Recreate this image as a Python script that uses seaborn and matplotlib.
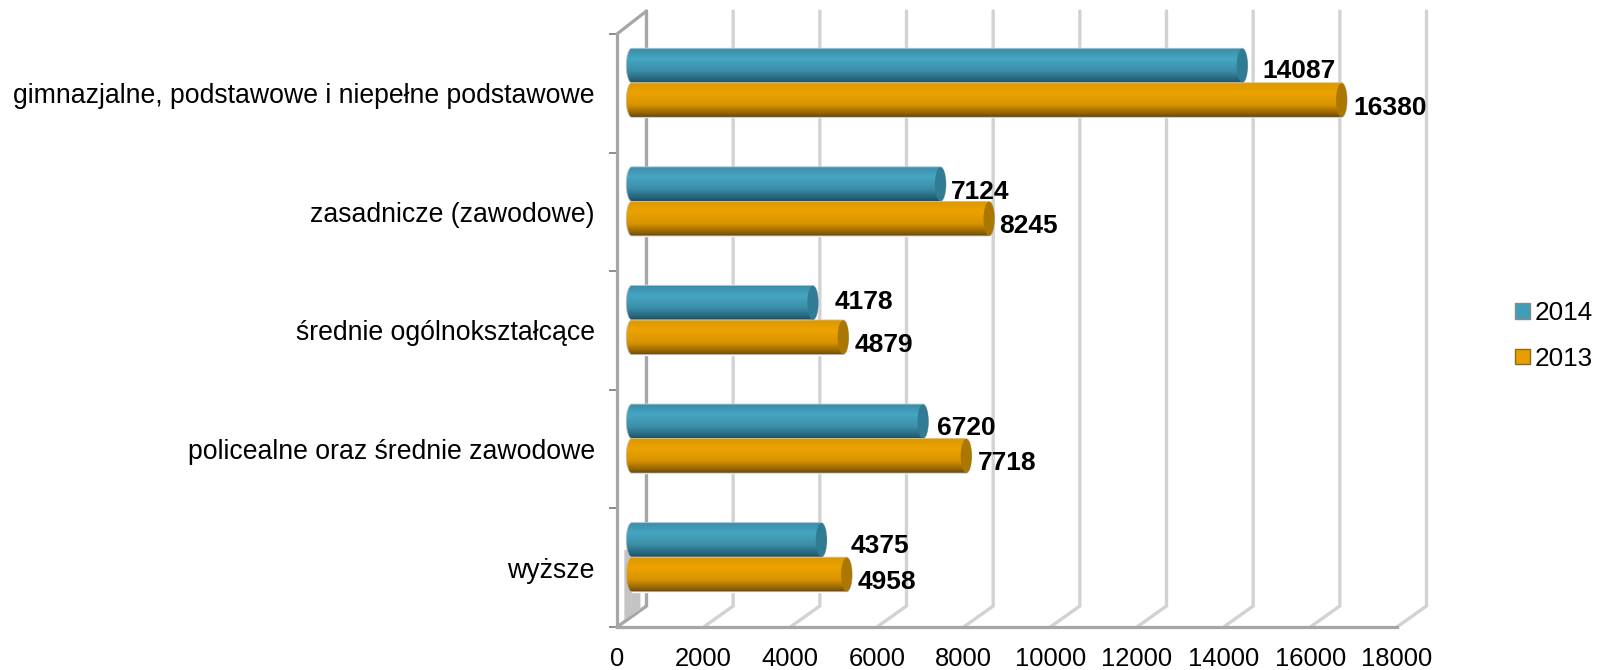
import numpy as np
import pandas as pd
import matplotlib
matplotlib.use("Agg")
import matplotlib.pyplot as plt
import seaborn as sns
from matplotlib.colors import LinearSegmentedColormap
from matplotlib.patches import Ellipse, PathPatch, Polygon, Patch
from matplotlib.path import Path

categories = ["gimnazjalne, podstawowe i niepełne podstawowe", "zasadnicze (zawodowe)",
              "średnie ogólnokształcące", "policealne oraz średnie zawodowe", "wyższe"]
series_names = ["2014", "2013"]
values_2014 = [14087, 7124, 4178, 6720, 4375]
values_2013 = [16380, 8245, 4879, 7718, 4958]
x_ticks = list(range(0, 18001, 2000))

# label nudges in pixels (right of bar end, down from bar centre)
nudge_2014 = [(15, 3), (5, 5), (16, -3), (9, 4), (24, 4)]
nudge_2013 = [(6, 5), (5, 5), (6, 5), (6, 5), (6, 5)]

sns.set_theme(style="white")
plt.rcParams["font.family"] = ["Liberation Sans", "DejaVu Sans"]

W, H = 1600, 670
fig = plt.figure(figsize=(W / 100, H / 100), dpi=100)

def rect(x0, y0, x1, y1):
    return [x0 / W, 1 - y1 / H, (x1 - x0) / W, (y1 - y0) / H]

FX0, FX1, FY0, FY1 = 617, 1397, 34, 627
DX, DY = 29.5, 21
SCALE = (FX1 - FX0) / 18000
LEFT_ROOM = 1000  # data units kept left of zero so the rounded bar ends are drawn
ax = fig.add_axes(rect(FX0, FY0, FX1, FY1))
bar_ax = fig.add_axes(rect(FX0 + DX / 2 - LEFT_ROOM * SCALE, FY0 - DY / 2, FX1 + DX / 2, FY1 - DY / 2))
bar_ax.patch.set_alpha(0)

df = pd.DataFrame({
    "cat": categories * 2,
    "year": [series_names[0]] * 5 + [series_names[1]] * 5,
    "value": values_2014 + values_2013,
})
blue, orange = "#3f9dba", "#e79f00"
sns.barplot(data=df, y="cat", x="value", hue="year", hue_order=series_names,
            palette=[blue, orange], width=0.582, gap=0, dodge=True, legend=False,
            saturation=1, ax=bar_ax)

# front axes
ax.set_xlim(0, 18000)
ax.set_ylim(4.5, -0.5)
ax.set_xticks(x_ticks)
ax.set_yticks(range(5))
ax.set_yticklabels(categories)
ax.set_yticks(np.arange(-0.5, 5), minor=True)
axis_c, grid_c = "#a6a6a6", "#d2d2d2"
ax.tick_params(axis="x", length=5.5, width=1.6, color="#8c8c8c", labelsize=18.4, pad=9, labelcolor="black")
ax.tick_params(axis="y", which="major", length=0, labelsize=19.15, pad=16, labelcolor="black")
ax.tick_params(axis="y", which="minor", left=True, length=5.5, width=1.4, color="#8c8c8c")
for s in ["top", "right"]:
    ax.spines[s].set_visible(False)
for s in ["left", "bottom"]:
    ax.spines[s].set_color(axis_c)
    ax.spines[s].set_linewidth(2.3)
ax.grid(False)

# walls and floor of the 3-D frame
tr = ax.get_xaxis_transform()
dx_data = DX * 18000 / (FX1 - FX0)
dy_axes = DY / (FY1 - FY0)
for t in x_ticks:
    c = axis_c if t == 0 else grid_c
    ax.plot([t, t + dx_data, t + dx_data], [0, dy_axes, 1 + 0.0388], transform=tr,
            color=c, lw=2.4, clip_on=False, zorder=1, solid_joinstyle="miter")
ax.plot([0, dx_data], [1, 1 + 0.0388], transform=tr, color=axis_c, lw=2.3, clip_on=False, zorder=1)
ax.add_patch(Polygon([[170, 0.012], [dx_data - 140, dy_axes - 0.006], [dx_data - 140, 0.13], [170, 0.13]],
                     closed=True, transform=tr, facecolor="#c4c4c4", edgecolor="none", zorder=1, clip_on=False))

# cylinder shading on top of the library's bars
blue_map = LinearSegmentedColormap.from_list("b", [(0, "#3c8ca6"), (0.3, "#45a6c3"), (0.65, "#3b8ea8"), (0.9, "#25667c"), (1, "#1d4f61")])
orange_map = LinearSegmentedColormap.from_list("o", [(0, "#dc9800"), (0.3, "#eca300"), (0.65, "#d89300"), (0.9, "#946300"), (1, "#6b4800")])
cap_colors = ["#2f7c94", "#ab7700"]
grad = np.linspace(0, 1, 64).reshape(-1, 1)
rx = 5.5 / SCALE
K = 0.5523
for container, cmap, cap, nudges in zip(bar_ax.containers, [blue_map, orange_map], cap_colors, [nudge_2014, nudge_2013]):
    for bar, nudge in zip(container, nudges):
        x0, y0, w, h = bar.get_x(), bar.get_y(), bar.get_width(), bar.get_height()
        x1 = x0 + w
        y1 = y0 + h
        ym = (y0 + y1) / 2
        verts = [(x0, y0), (x1, y0),
                 (x1 + K * rx, y0), (x1 + rx, ym - K * h / 2), (x1 + rx, ym),
                 (x1 + rx, ym + K * h / 2), (x1 + K * rx, y1), (x1, y1),
                 (x0, y1),
                 (x0 - K * rx, y1), (x0 - rx, ym + K * h / 2), (x0 - rx, ym),
                 (x0 - rx, ym - K * h / 2), (x0 - K * rx, y0), (x0, y0), (x0, y0)]
        codes = [Path.MOVETO, Path.LINETO, Path.CURVE4, Path.CURVE4, Path.CURVE4,
                 Path.CURVE4, Path.CURVE4, Path.CURVE4, Path.LINETO,
                 Path.CURVE4, Path.CURVE4, Path.CURVE4, Path.CURVE4, Path.CURVE4, Path.CURVE4, Path.CLOSEPOLY]
        outline = PathPatch(Path(verts, codes), facecolor="none", edgecolor="#bdbdbd", lw=0.6, zorder=4, transform=bar_ax.transData)
        bar_ax.add_patch(outline)
        im = bar_ax.imshow(grad, extent=(x0 - rx, x1 + rx, y1, y0), aspect="auto", cmap=cmap,
                           vmin=0, vmax=1, zorder=3, interpolation="bilinear")
        im.set_clip_path(outline)
        bar_ax.add_patch(Ellipse((x1, ym), 2 * rx, h * 0.98, facecolor=cap, edgecolor="none", zorder=5))
        bar_ax.annotate(f"{int(w)}", xy=(x1, ym), xytext=(5.5 + nudge[0], -nudge[1]),
                        textcoords=("offset pixels"), ha="left", va="center_baseline",
                        fontsize=19, fontweight="bold", color="black", zorder=6, annotation_clip=False)
bar_ax.set_xlim(-LEFT_ROOM, 18000)
bar_ax.set_ylim(4.5, -0.5)
bar_ax.axis("off")

# legend
handles = [Patch(facecolor=blue, edgecolor="#8a8a8a", label=series_names[0]),
           Patch(facecolor=orange, edgecolor="#8a6a20", label=series_names[1])]
fig.legend(handles=handles, loc="center left", bbox_to_anchor=(1515 / W, 1 - 336 / H), frameon=False,
           fontsize=18.8, labelcolor="black", handlelength=0.56, handleheight=0.56, handletextpad=0.2,
           labelspacing=0.82, borderpad=0, borderaxespad=0)

fig.savefig("out.png", dpi=100)
